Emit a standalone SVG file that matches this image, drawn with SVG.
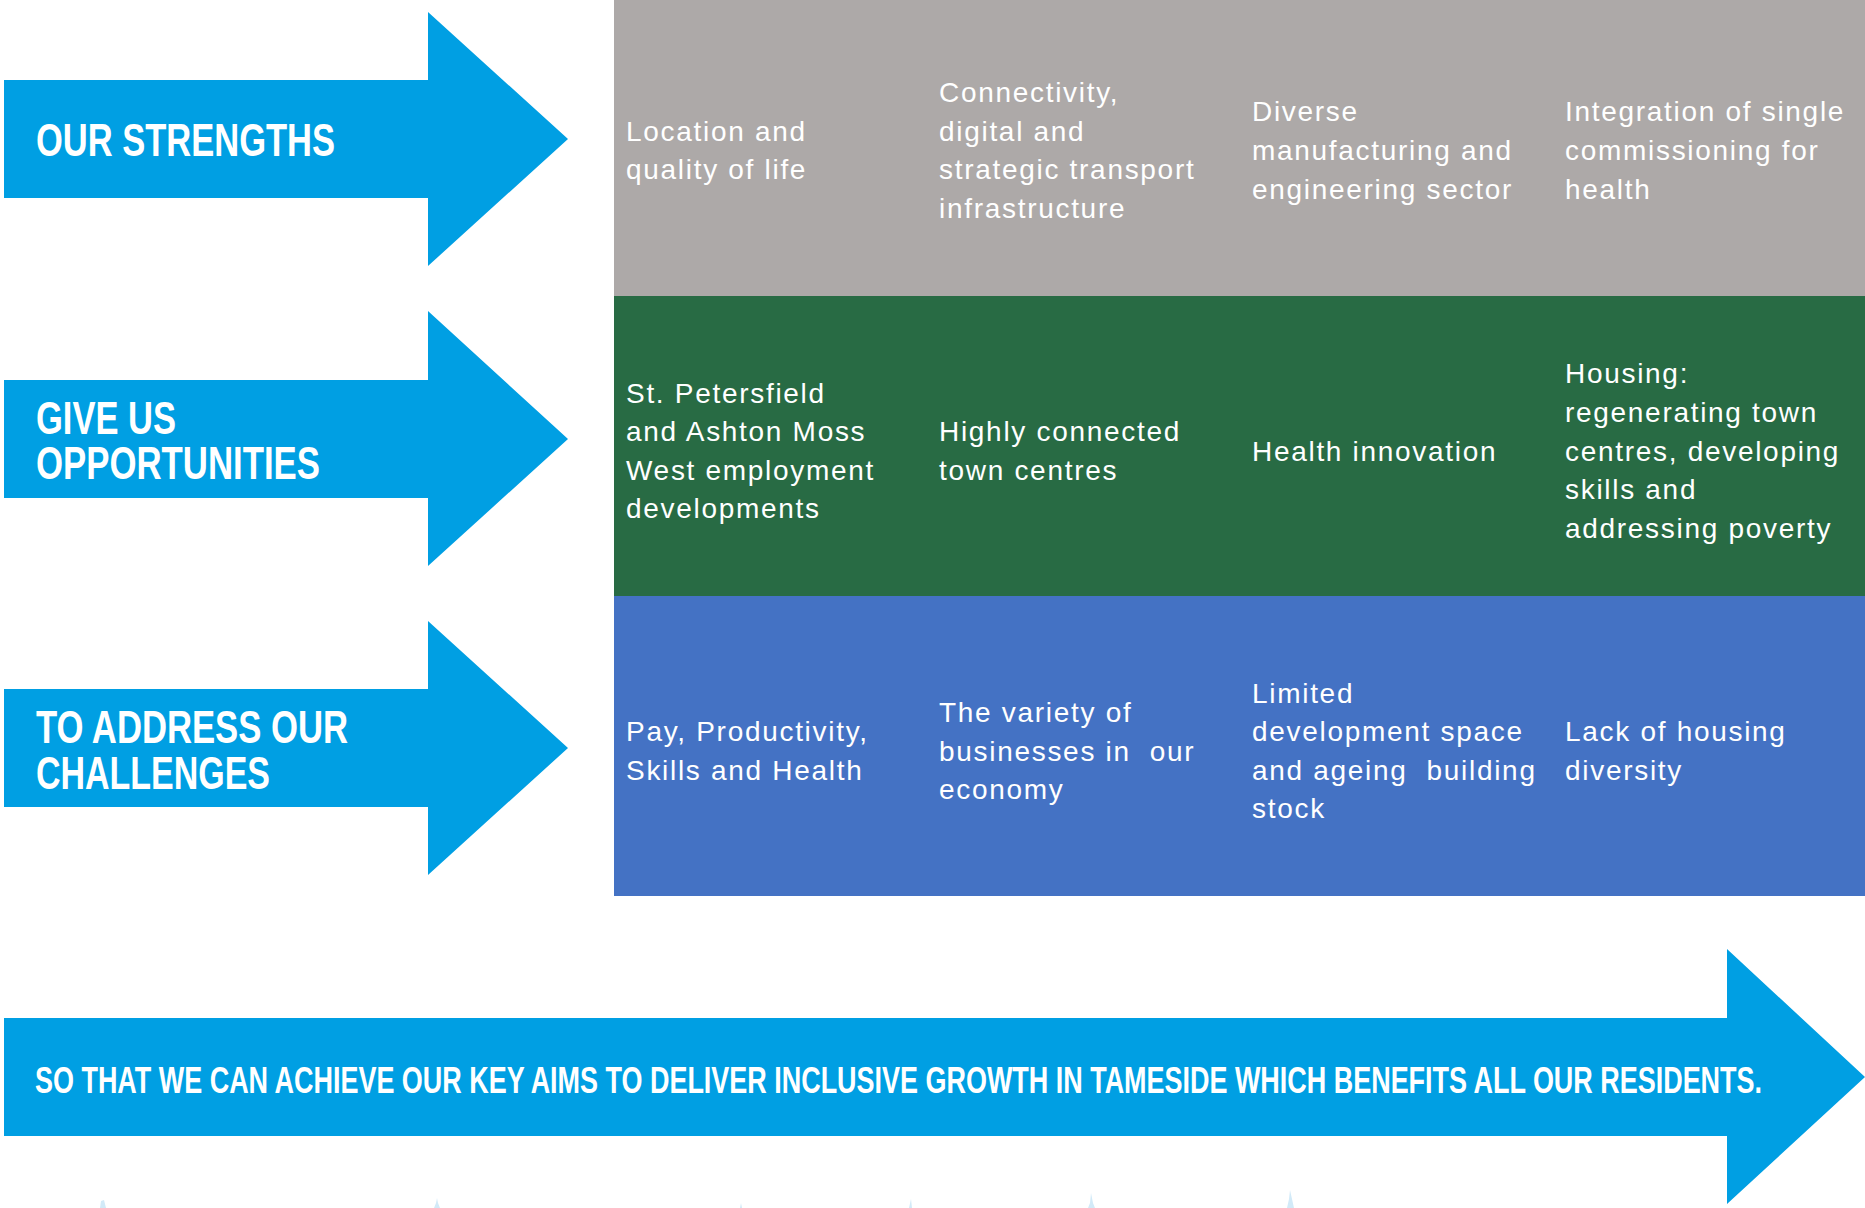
<svg xmlns="http://www.w3.org/2000/svg" width="1865" height="1208" viewBox="0 0 1865 1208">
<style>
.arrow{fill:#009FE3;}
.title{font-family:"Liberation Sans",Arial,sans-serif;font-weight:bold;font-size:46px;fill:#FFFFFF;}
.banner{font-family:"Liberation Sans",Arial,sans-serif;font-weight:bold;font-size:36px;fill:#FFFFFF;}
.cell{font-family:"Liberation Sans",Arial,sans-serif;font-size:28px;letter-spacing:1.7px;fill:#FFFFFF;white-space:pre;}
.spike{fill:#D2EAF8;}
</style>
<rect x="0" y="0" width="1865" height="1208" fill="#FFFFFF"/>

<g id="panels">
  <rect id="row-strengths" x="614" y="0" width="1251" height="296" fill="#ADA9A8"/>
  <rect id="row-opportunities" x="614" y="296" width="1251" height="300" fill="#286B44"/>
  <rect id="row-challenges" x="614" y="596" width="1251" height="300" fill="#4472C4"/>
</g>

<g id="arrow-strengths">
  <polygon class="arrow" points="4,80 428,80 428,12 568,139 428,266 428,198 4,198"/>
  <text class="title" x="36" y="156" textLength="299" lengthAdjust="spacingAndGlyphs">OUR STRENGTHS</text>
</g>
<g id="arrow-opportunities">
  <polygon class="arrow" points="4,380 428,380 428,311 568,439 428,566 428,498 4,498"/>
  <text class="title" x="36" y="434" textLength="140" lengthAdjust="spacingAndGlyphs">GIVE US</text>
  <text class="title" x="36" y="479" textLength="284" lengthAdjust="spacingAndGlyphs">OPPORTUNITIES</text>
</g>
<g id="arrow-challenges">
  <polygon class="arrow" points="4,689 428,689 428,621 568,748 428,875 428,807 4,807"/>
  <text class="title" x="36" y="743" textLength="312" lengthAdjust="spacingAndGlyphs">TO ADDRESS OUR</text>
  <text class="title" x="36" y="789" textLength="234" lengthAdjust="spacingAndGlyphs">CHALLENGES</text>
</g>
<g id="arrow-aims">
  <polygon class="arrow" points="4,1018 1727,1018 1727,949 1865,1077 1727,1204 1727,1136 4,1136"/>
  <text class="banner" x="35" y="1093" textLength="1727" lengthAdjust="spacingAndGlyphs">SO THAT WE CAN ACHIEVE OUR KEY AIMS TO DELIVER INCLUSIVE GROWTH IN TAMESIDE WHICH BENEFITS ALL OUR RESIDENTS.</text>
</g>

<g id="cell-location">
  <text class="cell" x="626" y="140.7">Location and</text>
  <text class="cell" x="626" y="179.3">quality of life</text>
</g>
<g id="cell-connectivity">
  <text class="cell" x="939" y="102.1">Connectivity,</text>
  <text class="cell" x="939" y="140.7">digital and</text>
  <text class="cell" x="939" y="179.3">strategic transport</text>
  <text class="cell" x="939" y="217.9">infrastructure</text>
</g>
<g id="cell-manufacturing">
  <text class="cell" x="1252" y="121.4">Diverse</text>
  <text class="cell" x="1252" y="160">manufacturing and</text>
  <text class="cell" x="1252" y="198.6">engineering sector</text>
</g>
<g id="cell-integration">
  <text class="cell" x="1565" y="121.4">Integration of single</text>
  <text class="cell" x="1565" y="160">commissioning for</text>
  <text class="cell" x="1565" y="198.6">health</text>
</g>

<g id="cell-petersfield">
  <text class="cell" x="626" y="402.6">St. Petersfield</text>
  <text class="cell" x="626" y="441.2">and Ashton Moss</text>
  <text class="cell" x="626" y="479.8">West employment</text>
  <text class="cell" x="626" y="518.4">developments</text>
</g>
<g id="cell-town-centres">
  <text class="cell" x="939" y="441.2">Highly connected</text>
  <text class="cell" x="939" y="479.8">town centres</text>
</g>
<g id="cell-health-innovation">
  <text class="cell" x="1252" y="460.5">Health innovation</text>
</g>
<g id="cell-housing">
  <text class="cell" x="1565" y="383.3">Housing:</text>
  <text class="cell" x="1565" y="421.9">regenerating town</text>
  <text class="cell" x="1565" y="460.5">centres, developing</text>
  <text class="cell" x="1565" y="499.1">skills and</text>
  <text class="cell" x="1565" y="537.7">addressing poverty</text>
</g>

<g id="cell-pay">
  <text class="cell" x="626" y="741.2">Pay, Productivity,</text>
  <text class="cell" x="626" y="779.8">Skills and Health</text>
</g>
<g id="cell-variety">
  <text class="cell" x="939" y="721.9">The variety of</text>
  <text class="cell" x="939" y="760.5">businesses in  our</text>
  <text class="cell" x="939" y="799.1">economy</text>
</g>
<g id="cell-space">
  <text class="cell" x="1252" y="702.6">Limited</text>
  <text class="cell" x="1252" y="741.2">development space</text>
  <text class="cell" x="1252" y="779.8">and ageing  building</text>
  <text class="cell" x="1252" y="818.4">stock</text>
</g>
<g id="cell-housing-diversity">
  <text class="cell" x="1565" y="741.2">Lack of housing</text>
  <text class="cell" x="1565" y="779.8">diversity</text>
</g>

<g id="connectors"></g>

<g id="skyline-tips">
  <polygon class="spike" points="100,1208 101,1201 104,1200 106,1208"/>
  <polygon class="spike" points="434,1208 436,1203 437,1198 438,1203 440,1208"/>
  <polygon class="spike" points="740,1208 741,1203 742,1208"/>
  <polygon class="spike" points="909,1208 911,1199 912,1208"/>
  <polygon class="spike" points="1088,1208 1090,1203 1091,1193 1093,1203 1095,1208"/>
  <polygon class="spike" points="1287,1208 1289,1199 1290,1190 1292,1199 1294,1208"/>
</g>
</svg>
